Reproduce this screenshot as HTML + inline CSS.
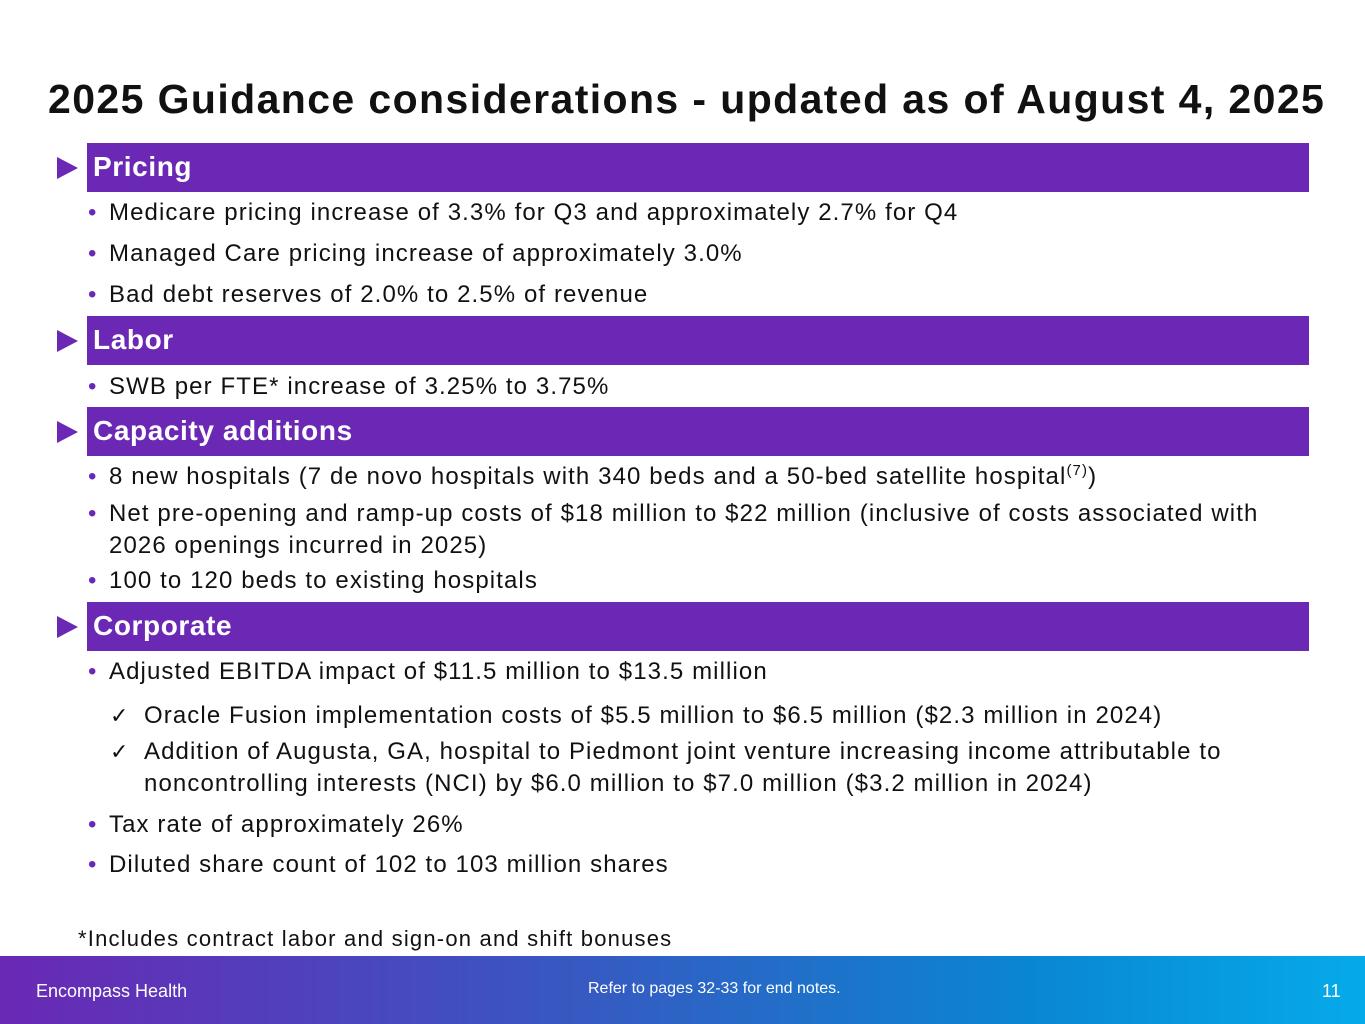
<!DOCTYPE html>
<html><head><meta charset="utf-8"><style>
body{margin:0;width:1365px;height:1024px;position:relative;background:#fff;font-family:"Liberation Sans",sans-serif;overflow:hidden}
.a{position:absolute;white-space:nowrap}
.t{left:48px;top:76px;font-weight:bold;font-size:41px;color:#111;letter-spacing:1.4px}
.bar{position:absolute;left:87px;width:1222px;height:49px;background:#6a28b5;color:#fff;font-weight:bold;font-size:28px;line-height:47px;padding-left:6px;box-sizing:border-box;letter-spacing:0.6px}
.tri{position:absolute;left:57px;width:0;height:0;border-left:21px solid #6a28b5;border-top:11px solid transparent;border-bottom:11px solid transparent}
.l{position:absolute;left:88px;color:#111;white-space:nowrap;line-height:32px;font-size:24px;letter-spacing:1.1px}
.l b{color:#6a28b5;font-weight:normal;font-size:24px;display:inline-block;width:21px;letter-spacing:0}
.c{left:110px}
.c b{color:#111;width:34px;font-size:22px}
sup{font-size:15px;line-height:0}
.foot{position:absolute;left:0;top:956px;width:1365px;height:68px;background:linear-gradient(90deg,#6a28b5,#3a56c0 40%,#0a86d0 75%,#05aaea);color:#fff}
</style></head><body>
<div class="a t">2025 Guidance considerations - updated as of August 4, 2025</div>

<div class="tri" style="top:157px"></div>
<div class="bar" style="top:143px">Pricing</div>
<div class="l" style="top:197px"><b>•</b>Medicare pricing increase of 3.3% for Q3 and approximately 2.7% for Q4</div>
<div class="l" style="top:238px"><b>•</b>Managed Care pricing increase of approximately 3.0%</div>
<div class="l" style="top:279px"><b>•</b>Bad debt reserves of 2.0% to 2.5% of revenue</div>

<div class="tri" style="top:330px"></div>
<div class="bar" style="top:316px">Labor</div>
<div class="l" style="top:371px"><b>•</b>SWB per FTE* increase of 3.25% to 3.75%</div>

<div class="tri" style="top:421px"></div>
<div class="bar" style="top:407px">Capacity additions</div>
<div class="l" style="top:461px"><b>•</b>8 new hospitals (7 de novo hospitals with 340 beds and a 50-bed satellite hospital<sup>(7)</sup>)</div>
<div class="l" style="top:498px"><b>•</b>Net pre-opening and ramp-up costs of $18 million to $22 million (inclusive of costs associated with<br><span style="padding-left:21px">2026 openings incurred in 2025)</span></div>
<div class="l" style="top:565px"><b>•</b>100 to 120 beds to existing hospitals</div>

<div class="tri" style="top:616px"></div>
<div class="bar" style="top:602px">Corporate</div>
<div class="l" style="top:656px"><b>•</b>Adjusted EBITDA impact of $11.5 million to $13.5 million</div>
<div class="l c" style="top:700px"><b>✓</b>Oracle Fusion implementation costs of $5.5 million to $6.5 million ($2.3 million in 2024)</div>
<div class="l c" style="top:736px"><b>✓</b>Addition of Augusta, GA, hospital to Piedmont joint venture increasing income attributable to<br><span style="padding-left:34px">noncontrolling interests (NCI) by $6.0 million to $7.0 million ($3.2 million in 2024)</span></div>
<div class="l" style="top:809px"><b>•</b>Tax rate of approximately 26%</div>
<div class="l" style="top:849px"><b>•</b>Diluted share count of 102 to 103 million shares</div>

<div class="a" style="left:78px;top:926px;font-size:22px;color:#111;letter-spacing:1.2px">*Includes contract labor and sign-on and shift bonuses</div>

<div class="foot">
<div class="a" style="left:36px;top:25px;font-size:18px">Encompass Health</div>
<div class="a" style="left:588px;top:24px;font-size:16px">Refer to pages 32-33 for end notes.</div>
<div class="a" style="left:1322px;top:25px;font-size:18px">11</div>
</div>
</body></html>
